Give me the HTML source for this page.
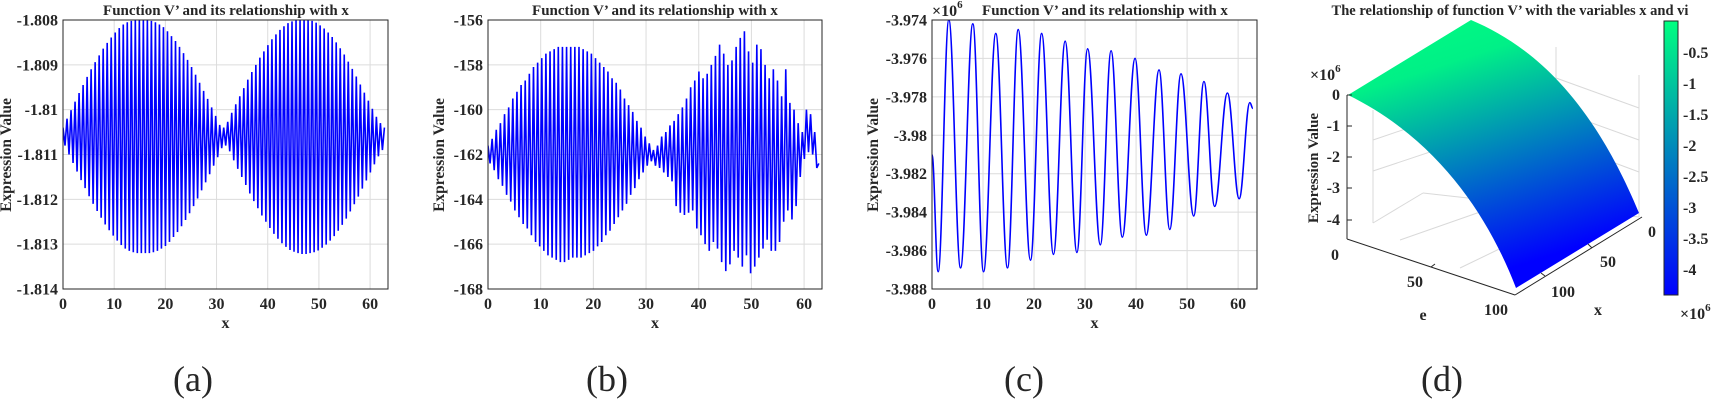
<!DOCTYPE html>
<html><head><meta charset="utf-8"><style>
html,body{margin:0;padding:0;background:#fff}
svg{display:block}
text{font-family:"Liberation Serif",serif;font-weight:bold;fill:#262626}
</style></head><body>
<svg id="fig" width="1714" height="410" viewBox="0 0 1714 410" xmlns="http://www.w3.org/2000/svg">
<defs>
<linearGradient id="winter" x1="0" y1="0" x2="0.35" y2="1">
<stop offset="0" stop-color="#00ff80"/><stop offset="0.25" stop-color="#00f087"/><stop offset="1" stop-color="#0000ff"/></linearGradient>
<linearGradient id="cbar" x1="0" y1="0" x2="0" y2="1">
<stop offset="0" stop-color="#00ff80"/><stop offset="1" stop-color="#0000ff"/></linearGradient>
</defs>
<g id="pa"></g>
<g id="pb"></g>
<g id="pc"></g>
<g id="pd">
  <g stroke="#d9d9d9" stroke-width="1" fill="none">
    <line x1="1373" y1="110" x2="1373" y2="223"/>
    <line x1="1373" y1="223" x2="1423" y2="193"/>
    <line x1="1423" y1="193" x2="1639" y2="217"/>
    <line x1="1556" y1="47" x2="1556" y2="192"/>
    <line x1="1639" y1="75" x2="1639" y2="217"/>
    <line x1="1373" y1="140" x2="1556" y2="78"/>
    <line x1="1373" y1="171" x2="1556" y2="110"/>
    <line x1="1556" y1="78" x2="1639" y2="108"/>
    <line x1="1556" y1="110" x2="1639" y2="140"/>
    <line x1="1556" y1="141" x2="1639" y2="172"/>
    <line x1="1400" y1="240" x2="1500" y2="205"/>
    <line x1="1460" y1="268" x2="1580" y2="210"/>
  </g>
  <path fill="url(#winter)" d="M1348,95 L1471,20 C1530,45 1590,95 1639,213 L1516,288 C1490,220 1440,140 1348,95 Z"/>
  <g stroke="#262626" stroke-width="1" fill="none">
    <line x1="1347" y1="95" x2="1347" y2="239"/>
    <line x1="1347" y1="239" x2="1515" y2="295"/>
    <line x1="1515" y1="295" x2="1642" y2="217"/>
    <line x1="1347" y1="95" x2="1352" y2="95"/><line x1="1347" y1="126" x2="1352" y2="126"/><line x1="1347" y1="157" x2="1352" y2="157"/><line x1="1347" y1="188" x2="1352" y2="188"/><line x1="1347" y1="220" x2="1352" y2="220"/>
    <line x1="1431" y1="267" x2="1435" y2="264"/><line x1="1592" y1="248" x2="1588" y2="244"/><line x1="1545" y1="276" x2="1541" y2="273"/>
  </g>
  <g font-size="16" text-anchor="end">
    <text x="1340" y="100">0</text><text x="1340" y="131">-1</text><text x="1340" y="162">-2</text><text x="1340" y="193">-3</text><text x="1340" y="225">-4</text>
  </g>
  <text x="1310" y="80" font-size="16" font-weight="normal">×10<tspan dy="-8" font-size="11">6</tspan></text>
  <text transform="translate(1318,168) rotate(-90)" text-anchor="middle" font-size="15">Expression Value</text>
  <g font-size="16" text-anchor="middle">
    <text x="1335" y="260">0</text><text x="1415" y="287">50</text><text x="1496" y="315">100</text>
  </g>
  <text x="1423" y="320" font-size="16" text-anchor="middle">e</text>
  <g font-size="16" text-anchor="middle">
    <text x="1652" y="237">0</text><text x="1608" y="267">50</text><text x="1563" y="297">100</text>
  </g>
  <text x="1598" y="315" font-size="16" text-anchor="middle">x</text>
  <rect x="1664" y="21" width="14" height="274" fill="url(#cbar)" stroke="#262626" stroke-width="1"/>
  <g font-size="16">
    <text x="1683" y="58">-0.5</text><text x="1683" y="89">-1</text><text x="1683" y="120">-1.5</text><text x="1683" y="151">-2</text><text x="1683" y="182">-2.5</text><text x="1683" y="213">-3</text><text x="1683" y="244">-3.5</text><text x="1683" y="275">-4</text>
  </g>
  <text x="1680" y="319" font-size="16" font-weight="normal">×10<tspan dy="-8" font-size="11">6</tspan></text>
  <text x="1510" y="15" font-size="14.5" text-anchor="middle">The relationship of function V’ with the variables x and vi</text>
</g>
<g font-size="36">
  <text x="193" y="391" text-anchor="middle" style="font-weight:normal">(a)</text>
  <text x="607" y="391" text-anchor="middle" style="font-weight:normal">(b)</text>
  <text x="1024" y="391" text-anchor="middle" style="font-weight:normal">(c)</text>
  <text x="1442" y="391" text-anchor="middle" style="font-weight:normal">(d)</text>
</g>
</svg>
<script>
// ---- Panel (a) data: per-cycle amplitude ----
const centerA = -1.8106;
const periodA = 0.785;
const ampA = [0.0002,0.0004,0.00059,0.00078,0.00097,0.00115,0.00133,0.0015,0.00166,0.00181,0.00196,0.00209,0.00221,0.00232,0.00242,0.0025,0.00255,0.00258,0.0026,0.0026,0.0026,0.0026,0.00258,0.00255,0.0025,0.00244,0.00235,0.00224,0.00213,0.002,0.00186,0.00171,0.00155,0.00138,0.0012,0.00102,0.00084,0.00065,0.00046,0.00026,
0.0002,0.00033,0.00053,0.00072,0.0009,0.00108,0.00127,0.00144,0.0016,0.00176,0.0019,0.00204,0.00217,0.00228,0.00238,0.00246,0.00253,0.00257,0.0026,0.00262,0.00262,0.0026,0.00258,0.00254,0.00248,0.00241,0.00232,0.00222,0.0021,0.00197,0.00183,0.00167,0.00151,0.00134,0.00116,0.00098,0.0008,0.00062,0.00044,0.0003,0.0002];
const yTicksA = [-1.808,-1.809,-1.81,-1.811,-1.812,-1.813,-1.814];
const yTickLabelsA = ["-1.808","-1.809","-1.81","-1.811","-1.812","-1.813","-1.814"];
// ---- Panel (b) data: per-cycle peaks and troughs ----
const periodB = 0.785;
const topsB = [-161.6,-161.3,-160.9,-160.6,-160.2,-159.9,-159.5,-159.2,-158.9,-158.7,-158.4,-158.1,-157.9,-157.7,-157.5,-157.4,-157.3,-157.2,-157.2,-157.2,-157.2,-157.2,-157.2,-157.3,-157.4,-157.5,-157.7,-157.9,-158.1,-158.3,-158.6,-158.8,-159.1,-159.5,-159.8,-160.1,-160.5,-160.8,-161.2,-161.5,
-161.8,-161.6,-161.2,-161.0,-160.7,-160.5,-160.2,-159.9,-159.5,-159.0,-158.7,-158.3,-158.6,-158.4,-158.0,-157.6,-157.1,-157.5,-158.0,-157.8,-157.2,-156.8,-156.5,-157.4,-157.9,-157.1,-157.3,-158.0,-158.6,-158.2,-158.7,-159.4,-158.2,-159.7,-160.0,-160.6,-161.0,-160.0,-160.2,-161.0,-162.4];
const botsB = [-162.4,-162.7,-163.1,-163.4,-163.8,-164.1,-164.5,-164.8,-165.1,-165.3,-165.6,-165.9,-166.1,-166.3,-166.5,-166.6,-166.7,-166.8,-166.8,-166.7,-166.6,-166.6,-166.6,-166.5,-166.4,-166.3,-166.1,-165.9,-165.6,-165.4,-165.1,-164.8,-164.5,-164.2,-163.8,-163.5,-163.1,-162.8,-162.5,-162.3,
-162.5,-162.6,-162.8,-163.0,-163.2,-164.3,-164.6,-164.7,-164.6,-164.5,-165.3,-165.6,-166.0,-166.3,-165.9,-166.2,-166.8,-167.2,-166.9,-166.3,-166.6,-167.0,-166.5,-167.3,-167.0,-166.6,-166.2,-165.8,-166.3,-166.3,-165.9,-165.0,-164.5,-164.9,-164.3,-163.0,-162.2,-161.9,-162.0,-162.6,-162.5];
const yTicksB = [-156,-158,-160,-162,-164,-166,-168];
const yTickLabelsB = ["-156","-158","-160","-162","-164","-166","-168"];
// ---- Panel (c) data: extrema (×10^6) ----
const cX = [0,1.2,3.3,5.6,8,10.1,12.5,14.8,16.9,19.3,21.5,23.8,26.1,28.4,30.5,33,35.1,37.3,39.8,42,44.5,46.6,48.8,51.3,53.3,55.4,57.9,60.2,62.3,62.9];
const cY = [-3.981,-3.9871,-3.974,-3.9869,-3.9742,-3.9871,-3.9747,-3.9869,-3.9745,-3.9865,-3.9747,-3.9862,-3.9751,-3.9861,-3.9755,-3.9857,-3.9756,-3.9853,-3.976,-3.9852,-3.9766,-3.9849,-3.9768,-3.9842,-3.9772,-3.9837,-3.9778,-3.9833,-3.9783,-3.9786];
const yTicksC = [-3.974,-3.976,-3.978,-3.98,-3.982,-3.984,-3.986,-3.988];
const yTickLabelsC = ["-3.974","-3.976","-3.978","-3.98","-3.982","-3.984","-3.986","-3.988"];
const xTicks = [0,10,20,30,40,50,60];
const xTickLabels = ["0","10","20","30","40","50","60"];

const NS = "http://www.w3.org/2000/svg";
function mk(tag, attrs, parent){ const e=document.createElementNS(NS,tag); for(const k in attrs) e.setAttribute(k,attrs[k]); parent.appendChild(e); return e; }

function panel(g, b, xmax, ymin, ymax, yTicks, yLabels, title, titleX, ylabX, expo){
  const sx = v => b.x0 + (v/xmax)*(b.x1-b.x0);
  const sy = v => b.y1 - (v-ymin)/(ymax-ymin)*(b.y1-b.y0);
  const grid = mk('g',{stroke:'#dcdcdc','stroke-width':1},g);
  
  
  xTicks.forEach(t=>{ mk('line',{x1:sx(t),x2:sx(t),y1:b.y0,y2:b.y1},grid); });
  yTicks.forEach(t=>{ mk('line',{x1:b.x0,x2:b.x1,y1:sy(t),y2:sy(t)},grid); });
  const xl = mk('g',{'font-size':16,'text-anchor':'middle'},g);
  
  
  xTicks.forEach((t,i)=>{ const e=mk('text',{x:sx(t),y:b.y1+20},xl); e.textContent=xTickLabels[i]; });
  const yl = mk('g',{'font-size':16,'text-anchor':'end'},g);
  
  
  yTicks.forEach((t,i)=>{ const e=mk('text',{x:b.x0-5,y:sy(t)+5.5},yl); e.textContent=yLabels[i]; });
  const xt = mk('text',{x:(b.x0+b.x1)/2,y:b.y1+39,'font-size':16,'text-anchor':'middle'},g);
  
  
  xt.textContent='x';
  const yt = mk('text',{transform:`translate(${ylabX},155) rotate(-90)`,'font-size':15.5,'text-anchor':'middle'},g);
  
  
  yt.textContent='Expression Value';
  const tt = mk('text',{x:titleX,y:15,'font-size':15,'text-anchor':'middle'},g);
  
  
  tt.textContent=title;
  if(expo){
    const ex = mk('text',{x:b.x0,y:16,'font-size':16,'font-weight':'normal'},g);
    
    
    ex.innerHTML='×10<tspan dy="-8" font-size="11">6</tspan>';
  }
  return {sx,sy};
}
function frame(g,b){
  const f = mk('rect',{x:b.x0,y:b.y0,width:b.x1-b.x0,height:b.y1-b.y0,fill:'none',stroke:'#262626','stroke-width':1},g);
  
  
}
function clipFor(id,b){
  const c = mk('clipPath',{id:id},document.querySelector('defs'));
  mk('rect',{x:b.x0,y:b.y0,width:b.x1-b.x0,height:b.y1-b.y0},c);
}

// Panel a
const bA={x0:63,x1:388,y0:20,y1:289};
const gA=document.getElementById('pa');
const sA=panel(gA,bA,63.5,-1.814,-1.808,yTicksA,yTickLabelsA,'Function V’ and its relationship with x',226,11,false);
clipFor('cA',bA);
let dA='';
ampA.forEach((a,k)=>{
  const x1=k*periodA, x2=(k+0.5)*periodA;
  if(x1<=62.9) dA+=(dA?'L':'M')+sA.sx(x1).toFixed(2)+','+sA.sy(centerA+a).toFixed(2);
  if(x2<=62.9) dA+='L'+sA.sx(x2).toFixed(2)+','+sA.sy(centerA-a).toFixed(2);
});
const lA=mk('path',{d:dA,fill:'none',stroke:'#0000ff','stroke-width':1.6,'clip-path':'url(#cA)'},gA);


frame(gA,bA);

// Panel b
const bB={x0:488,x1:822,y0:20,y1:289};
const gB=document.getElementById('pb');
const sB=panel(gB,bB,63.4,-168,-156,yTicksB,yTickLabelsB,'Function V’ and its relationship with x',655,444,false);
clipFor('cB',bB);
let dB='';
topsB.forEach((t,k)=>{
  const x1=k*periodB, x2=(k+0.5)*periodB;
  if(x1<=62.9) dB+=(dB?'L':'M')+sB.sx(x1).toFixed(2)+','+sB.sy(t).toFixed(2);
  if(x2<=62.9) dB+='L'+sB.sx(x2).toFixed(2)+','+sB.sy(botsB[k]).toFixed(2);
});
const lB=mk('path',{d:dB,fill:'none',stroke:'#0000ff','stroke-width':1.6,'clip-path':'url(#cB)'},gB);


frame(gB,bB);

// Panel c
const bC={x0:932,x1:1257,y0:20,y1:289};
const gC=document.getElementById('pc');
const sC=panel(gC,bC,63.7,-3.988,-3.974,yTicksC,yTickLabelsC,'Function V’ and its relationship with x',1105,878,true);
clipFor('cC',bC);
let dC='M'+sC.sx(cX[0]).toFixed(2)+','+sC.sy(cY[0]).toFixed(2);
for(let i=1;i<cX.length;i++){
  const xa=sC.sx(cX[i-1]), xb=sC.sx(cX[i]), ya=sC.sy(cY[i-1]), yb=sC.sy(cY[i]);
  const dx=(xb-xa)/2.6;
  dC+=`C${(xa+dx).toFixed(2)},${ya.toFixed(2)} ${(xb-dx).toFixed(2)},${yb.toFixed(2)} ${xb.toFixed(2)},${yb.toFixed(2)}`;
}
const lC=mk('path',{d:dC,fill:'none',stroke:'#0000ff','stroke-width':1.6,'clip-path':'url(#cC)'},gC);


frame(gC,bC);
</script>
</body></html>
